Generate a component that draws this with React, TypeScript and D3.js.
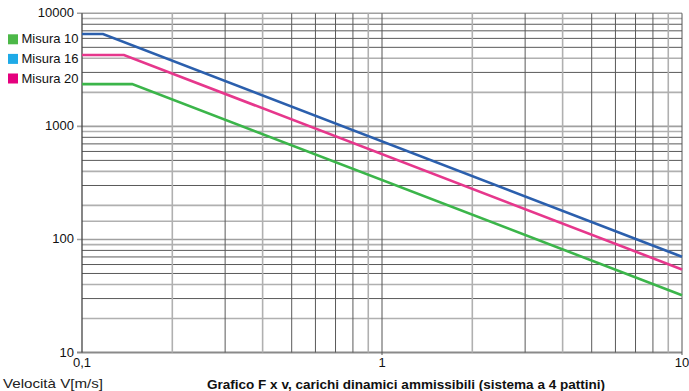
import React from 'react';
import * as d3 from 'd3';

const yTicks = [10, 100, 1000, 10000];
const xTicks = [0.1, 1, 10];
const xTickLabels = ['0,1', '1', '10'];
const decadesX = [0.1, 1];
const decadesY = [10, 100, 1000];
const gridMultipliers = [2, 3, 4, 5, 6, 7, 8, 9];
const darkMultipliers = [3, 5, 6, 7, 8];
const extraGridY = [145];

const seriesNames = ['Misura 10', 'Misura 16', 'Misura 20'];
const legendColors = ['#4cb848', '#1eaae7', '#e5007e'];

const blueLine: [number, number][] = [[0.1, 6560], [0.1175, 6560], [10, 70.2]];
const magentaLine: [number, number][] = [[0.1, 4276], [0.138, 4276], [10, 54.3]];
const greenLine: [number, number][] = [[0.1, 2366], [0.147, 2366], [10, 32.1]];
const lines = [
  { data: blueLine, color: '#2b5fad' },
  { data: magentaLine, color: '#e6378c' },
  { data: greenLine, color: '#3bb54a' },
];

const xLabel = 'Velocità V[m/s]';
const title = 'Grafico F x v, carichi dinamici ammissibili (sistema a 4 pattini)';

export default function App() {
  const W = 689, H = 391;
  const x = d3.scaleLog().domain([0.1, 10]).range([82, 682]);
  const y = d3.scaleLog().domain([10, 10000]).range([352.5, 13.3]);
  const line = d3.line<[number, number]>().x(d => x(d[0])).y(d => y(d[1]));
  const font = 'Liberation Sans, Arial, Helvetica, sans-serif';

  const vGrid: { v: number; dark: boolean }[] = [];
  decadesX.forEach(d => gridMultipliers.forEach(m => vGrid.push({ v: d * m, dark: darkMultipliers.includes(m) })));
  const hGrid: { v: number; dark: boolean }[] = [];
  decadesY.forEach(d => gridMultipliers.forEach(m => hGrid.push({ v: d * m, dark: darkMultipliers.includes(m) })));
  extraGridY.forEach(v => hGrid.push({ v, dark: false }));

  return (
    <svg width={W} height={H} style={{ position: 'absolute', left: 0, top: 0, background: '#fff' }} fontFamily={font}>
      {hGrid.map((g, i) => (
        <line key={'h' + i} x1={82} x2={682} y1={y(g.v)} y2={y(g.v)}
          stroke={g.dark ? '#5a5a5a' : '#b0b0b0'} strokeWidth={g.dark ? 1 : 1.6} />
      ))}
      {yTicks.map((t, i) => (
        <line key={'hm' + i} x1={77} x2={682} y1={y(t)} y2={y(t)}
          stroke={i === 0 ? '#8a8a8a' : '#a0a0a0'} strokeWidth={i === 0 ? 2 : 1.6} />
      ))}
      {vGrid.map((g, i) => (
        <line key={'v' + i} x1={x(g.v)} x2={x(g.v)} y1={13.3} y2={352.5}
          stroke={g.dark ? '#5a5a5a' : '#b0b0b0'} strokeWidth={g.dark ? 1 : 1.6} />
      ))}
      {xTicks.map((t, i) => (
        <line key={'vm' + i} x1={x(t)} x2={x(t)} y1={13.3} y2={i === 0 ? 352.5 : 355}
          stroke={i === 0 ? '#444' : '#555'} strokeWidth={i === 0 ? 1.3 : 1} />
      ))}
      {lines.map((l, i) => (
        <path key={'l' + i} d={line(l.data) || ''} fill="none" stroke={l.color} strokeWidth={2.6} />
      ))}
      {yTicks.map((t, i) => (
        <text key={'yt' + i} x={74} y={y(t) + 4} textAnchor="end" fontSize={13} fill="#111">{t}</text>
      ))}
      {xTicks.map((t, i) => (
        <text key={'xt' + i} x={x(t)} y={367} textAnchor="middle" fontSize={13} fill="#111">{xTickLabels[i]}</text>
      ))}
      {seriesNames.map((n, i) => (
        <g key={'lg' + i}>
          <rect x={8} y={34.3 + i * 19.6} width={10} height={10} fill={legendColors[i]} />
          <text x={21.5} y={43.3 + i * 19.6} fontSize={13} fill="#111">{n}</text>
        </g>
      ))}
      <text x={3} y={388} fontSize={13} fill="#222" textLength={100} lengthAdjust="spacingAndGlyphs">{xLabel}</text>
      <text x={207} y={388.5} fontSize={12.5} fontWeight="bold" fill="#111" textLength={398} lengthAdjust="spacingAndGlyphs">{title}</text>
    </svg>
  );
}
